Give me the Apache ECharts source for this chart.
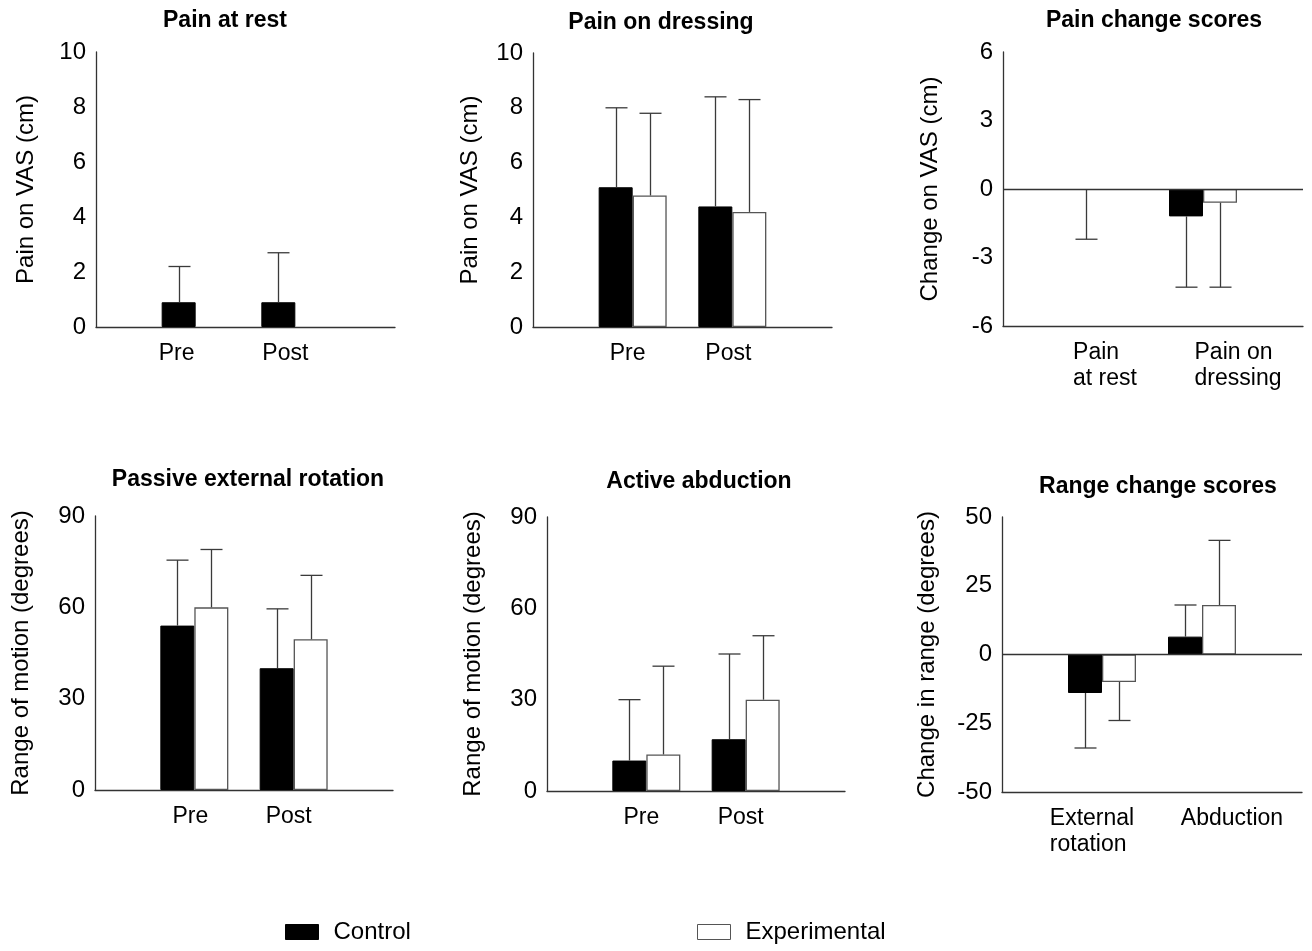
<!DOCTYPE html>
<html>
<head>
<meta charset="utf-8">
<script src="https://cdn.jsdelivr.net/npm/echarts@6/dist/echarts.min.js"></script>
<style>
  html, body { margin: 0; background: #fff; }
  #chart { width: 1312px; height: 951px; }
</style>
</head>
<body>
<div id="chart"></div>
<script>
  // categories
  const prePost = ['Pre', 'Post'];
  const painCats = ['Pain\nat rest', 'Pain on\ndressing'];
  const rangeCats = ['External\nrotation', 'Abduction'];

  // tick labels
  const vasTicks = [0, 2, 4, 6, 8, 10];
  const vasChangeTicks = [-6, -3, 0, 3, 6];
  const romTicks = [0, 30, 60, 90];
  const romChangeTicks = [-50, -25, 0, 25, 50];

  // group means and whisker tips (mean +/- SD)
  const restCtrl = [0.9, 0.9];
  const restCtrlTip = [2.2, 2.7];
  const restExp = [0, 0];
  const restExpTip = [0, 0];

  const dressCtrl = [5.1, 4.4];
  const dressCtrlTip = [8.0, 8.4];
  const dressExp = [4.8, 4.2];
  const dressExpTip = [7.8, 8.3];

  const painChgCtrl = [0, -1.2];
  const painChgCtrlTip = [-2.2, -4.3];
  const painChgExp = [0, -0.6];
  const painChgExpTip = [0, -4.3];

  const extRotCtrl = [54, 40];
  const extRotCtrlTip = [75.5, 59.5];
  const extRotExp = [60, 49.5];
  const extRotExpTip = [79, 70.5];

  const abdCtrl = [10, 17];
  const abdCtrlTip = [30, 45];
  const abdExp = [12, 30];
  const abdExpTip = [41, 51];

  const romChgCtrl = [-14, 6.5];
  const romChgCtrlTip = [-34, 18];
  const romChgExp = [-10, 18];
  const romChgExpTip = [-24, 41.5];

  const FONT = '"Liberation Sans", Arial, sans-serif';
  const BAR_W = 34;
  const AXIS_COLOR = '#333';
  const WHISKER_COLOR = '#3a3a3a';

  const panels = [
    { title: 'Pain at rest', yName: 'Pain on VAS (cm)', cats: prePost, ticks: vasTicks,
      ctrl: restCtrl, ctrlTip: restCtrlTip, exp: restExp, expTip: restExpTip,
      box: [96, 52, 299, 275], nameGap: 58, head: [225, 22], shift: [-19, -10] },
    { title: 'Pain on dressing', yName: 'Pain on VAS (cm)', cats: prePost, ticks: vasTicks,
      ctrl: dressCtrl, ctrlTip: dressCtrlTip, exp: dressExp, expTip: dressExpTip,
      box: [533, 53, 299, 274], nameGap: 51, head: [661, 24], shift: [-5, -4] },
    { title: 'Pain change scores', yName: 'Change on VAS (cm)', cats: painCats, ticks: vasChangeTicks,
      ctrl: painChgCtrl, ctrlTip: painChgCtrlTip, exp: painChgExp, expTip: painChgExpTip,
      box: [1003, 52, 300, 274], nameGap: 61, head: [1154, 22], shift: [2, 35] },
    { title: 'Passive external rotation', yName: 'Range of motion (degrees)', cats: prePost, ticks: romTicks,
      ctrl: extRotCtrl, ctrlTip: extRotCtrlTip, exp: extRotExp, expTip: extRotExpTip,
      box: [95, 516, 298, 274], nameGap: 62, head: [248, 481], shift: [-4, -5] },
    { title: 'Active abduction', yName: 'Range of motion (degrees)', cats: prePost, ticks: romTicks,
      ctrl: abdCtrl, ctrlTip: abdCtrlTip, exp: abdExp, expTip: abdExpTip,
      box: [547, 517, 298, 274], nameGap: 62, head: [699, 483], shift: [-5, -5] },
    { title: 'Range change scores', yName: 'Change in range (degrees)', cats: rangeCats, ticks: romChangeTicks,
      ctrl: romChgCtrl, ctrlTip: romChgCtrlTip, exp: romChgExp, expTip: romChgExpTip,
      box: [1002, 517, 300, 275], nameGap: 63, head: [1158, 488], shift: [-10, 30] },
  ];

  function whiskers(offset) {
    return function (params, api) {
      const x = api.value(0);
      const v = api.value(1);
      const tip = api.value(2);
      if (v === tip) return;
      const p0 = api.coord([x, v]);
      const p1 = api.coord([x, tip]);
      const cx = Math.round(p0[0] + offset) + 0.5;
      const style = { stroke: WHISKER_COLOR, lineWidth: 1.3 };
      return {
        type: 'group',
        children: [
          { type: 'line', shape: { x1: cx, y1: p0[1], x2: cx, y2: p1[1] }, style },
          { type: 'line', shape: { x1: cx - 11, y1: p1[1], x2: cx + 11, y2: p1[1] }, style },
        ],
      };
    };
  }

  // zero-height bars get no outline, so they do not show up as stray strokes
  function barData(arr) {
    const items = arr.map((v) => (v === 0 ? { value: 0, itemStyle: { borderWidth: 0 } } : v));
    return ['-', ...items, '-'];
  }

  const legendText = { fontFamily: FONT, fontSize: 24, color: '#000', padding: [0, 0, 0, 10] };

  const option = {
    animation: false,
    backgroundColor: '#fff',
    textStyle: { fontFamily: FONT },
    title: [],
    grid: [],
    xAxis: [],
    yAxis: [],
    series: [],
    legend: [
      {
        data: [{ name: 'Control', icon: 'rect', itemStyle: { color: '#000', borderColor: '#000', borderWidth: 1 } }],
        left: 285, top: 920, padding: 0, itemWidth: 33, itemHeight: 15,
        textStyle: legendText,
      },
      {
        data: [{ name: 'Experimental', icon: 'rect', itemStyle: { color: '#fff', borderColor: '#555', borderWidth: 1 } }],
        left: 697, top: 920, padding: 0, itemWidth: 33, itemHeight: 15,
        textStyle: legendText,
      },
    ],
  };

  panels.forEach((p, i) => {
    const [left, top, width, height] = p.box;
    const ticks = p.ticks;

    option.title.push({
      text: p.title,
      left: p.head[0],
      top: p.head[1] - 13,
      textAlign: 'center',
      padding: 0,
      textStyle: { fontFamily: FONT, fontSize: 23, fontWeight: 'bold', color: '#000' },
    });

    option.grid.push({ left, top, width, height });

    const rich = {};
    p.shift.forEach((d, k) => {
      rich['c' + k] = {
        fontFamily: FONT, fontSize: 23, color: '#000', lineHeight: 26, align: 'left',
        padding: d >= 0 ? [0, 0, 0, 2 * d] : [0, -2 * d, 0, 0],
      };
    });

    option.xAxis.push({
      gridIndex: i,
      type: 'category',
      data: ['', ...p.cats, ''],
      boundaryGap: false,
      axisTick: { show: false },
      axisLine: { onZero: false, lineStyle: { color: AXIS_COLOR, width: 1.3 } },
      axisLabel: {
        interval: 0,
        margin: 14,
        fontSize: 23,
        color: '#000',
        formatter: (val) => {
          const k = p.cats.indexOf(val);
          return k < 0 ? '' : '{c' + k + '|' + val + '}';
        },
        rich,
      },
    });

    option.yAxis.push({
      gridIndex: i,
      type: 'value',
      min: ticks[0],
      max: ticks[ticks.length - 1],
      interval: ticks[1] - ticks[0],
      name: p.yName,
      nameLocation: 'middle',
      nameGap: p.nameGap,
      nameTextStyle: { fontFamily: FONT, fontSize: 24, color: '#000' },
      axisLine: { show: true, lineStyle: { color: AXIS_COLOR, width: 1.3 } },
      axisTick: { show: false },
      splitLine: { show: false },
      axisLabel: { fontSize: 24, color: '#000', margin: 10 },
    });

    const ctrlSeries = {
      type: 'bar',
      name: 'Control',
      xAxisIndex: i,
      yAxisIndex: i,
      data: barData(p.ctrl),
      barWidth: BAR_W,
      barGap: '0%',
      itemStyle: { color: '#000', borderColor: '#000', borderWidth: 1 },
    };
    if (ticks[0] < 0) {
      ctrlSeries.markLine = {
        silent: true,
        symbol: 'none',
        label: { show: false },
        lineStyle: { color: AXIS_COLOR, type: 'solid', width: 1.3 },
        data: [{ yAxis: 0 }],
      };
    }
    option.series.push(ctrlSeries);

    option.series.push({
      type: 'bar',
      name: 'Experimental',
      xAxisIndex: i,
      yAxisIndex: i,
      data: barData(p.exp),
      barWidth: BAR_W,
      barGap: '0%',
      itemStyle: { color: '#fff', borderColor: '#555', borderWidth: 1.3 },
    });

    option.series.push({
      type: 'custom',
      name: 'Control',
      xAxisIndex: i,
      yAxisIndex: i,
      renderItem: whiskers(-BAR_W / 2),
      encode: { x: 0, y: [1, 2] },
      data: p.ctrl.map((v, k) => [k + 1, v, p.ctrlTip[k]]),
      z: 3,
    });
    option.series.push({
      type: 'custom',
      name: 'Experimental',
      xAxisIndex: i,
      yAxisIndex: i,
      renderItem: whiskers(BAR_W / 2),
      encode: { x: 0, y: [1, 2] },
      data: p.exp.map((v, k) => [k + 1, v, p.expTip[k]]),
      z: 3,
    });
  });

  const chart = echarts.init(document.getElementById('chart'));
  chart.setOption(option);
</script>
</body>
</html>
